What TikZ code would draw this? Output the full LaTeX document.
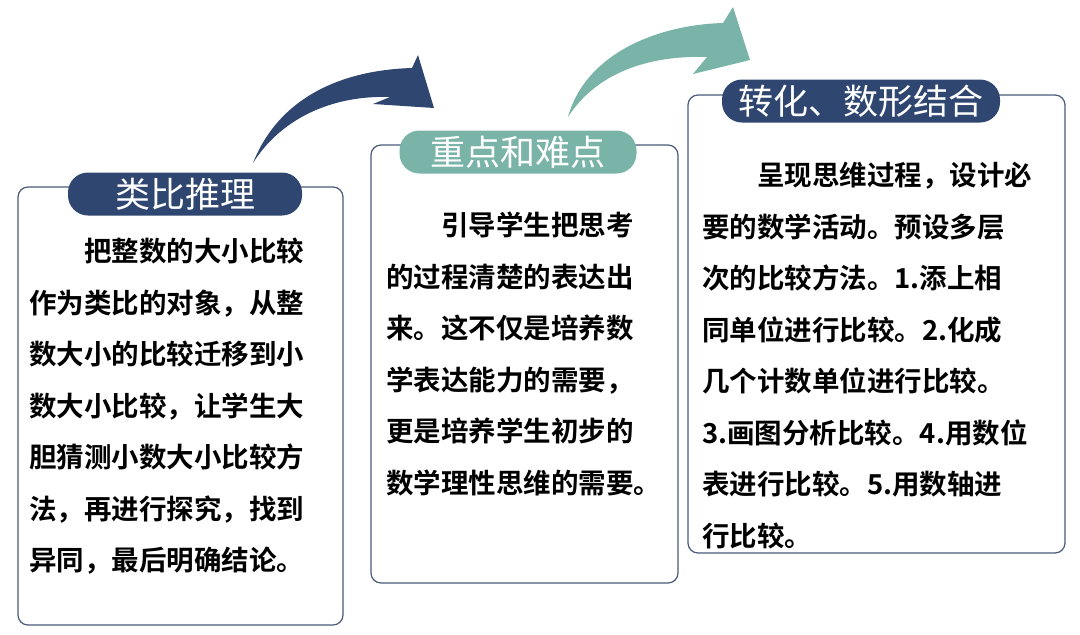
\documentclass[tikz,border=0pt]{standalone}
\usepackage{fontspec}
\setmainfont{Noto Sans CJK SC}
\newfontfamily\cjkbold{Noto Sans CJK SC Bold}
\definecolor{navy}{HTML}{2E4670}
\definecolor{teal}{HTML}{7AB3A8}
\definecolor{edge}{HTML}{4A5A78}
\tikzset{
  panel/.style={draw=edge, line width=1.2pt, rounded corners=10pt, fill=white},
  pill/.style={rounded corners=20pt, minimum height=43pt, inner sep=0pt, text=white, font=\fontsize{35}{36}\selectfont},
  body/.style={anchor=north west, align=left, inner sep=0pt, font=\cjkbold\fontsize{27.5}{51.5}\selectfont}
}
\begin{document}
\begin{tikzpicture}[x=1pt,y=-1pt]
    \useasboundingbox (0,0) rectangle (1080,635);

    % curved arrows
    \fill[navy] (253,163) .. controls (280,95) and (345,70) .. (412,68)
        -- (418,55) -- (434,108) -- (373,104) -- (390,97)
        .. controls (330,95) and (280,120) .. (253,163) -- cycle;
    \fill[teal] (568,117) .. controls (585,55) and (655,25) .. (723,23)
        -- (733,7) -- (750,60) -- (693,74) -- (707,57)
        .. controls (645,55) and (595,75) .. (568,117) -- cycle;

    % panels
    \draw[panel] (18,187) rectangle (343,625);
    \draw[panel] (371,145) rectangle (678,583);
    \draw[panel] (688,95) rectangle (1065,553);

    \node[pill, fill=navy, minimum width=234pt] (analogy) at (185,194) {类比推理};
    \node[pill, fill=teal, minimum width=237pt] (focus) at (518,152) {重点和难点};
    \node[pill, fill=navy, minimum width=278pt] (transform) at (861,101) {转化、数形结合};

    \node[body] (text1) at (29,238) {\hspace{2em}把整数的大小比较\\作为类比的对象，从整\\数大小的比较迁移到小\\数大小比较，让学生大\\胆猜测小数大小比较方\\法，再进行探究，找到\\异同，最后明确结论。};
    \node[body] (text2) at (386,212) {\hspace{2em}引导学生把思考\\的过程清楚的表达出\\来。这不仅是培养数\\学表达能力的需要，\\更是培养学生初步的\\数学理性思维的需要。};
    \node[body] (text3) at (702,162) {\hspace{2em}呈现思维过程，设计必\\要的数学活动。预设多层\\次的比较方法。1.添上相\\同单位进行比较。2.化成\\几个计数单位进行比较。\\3.画图分析比较。4.用数位\\表进行比较。5.用数轴进\\行比较。};
\end{tikzpicture}
\end{document}
